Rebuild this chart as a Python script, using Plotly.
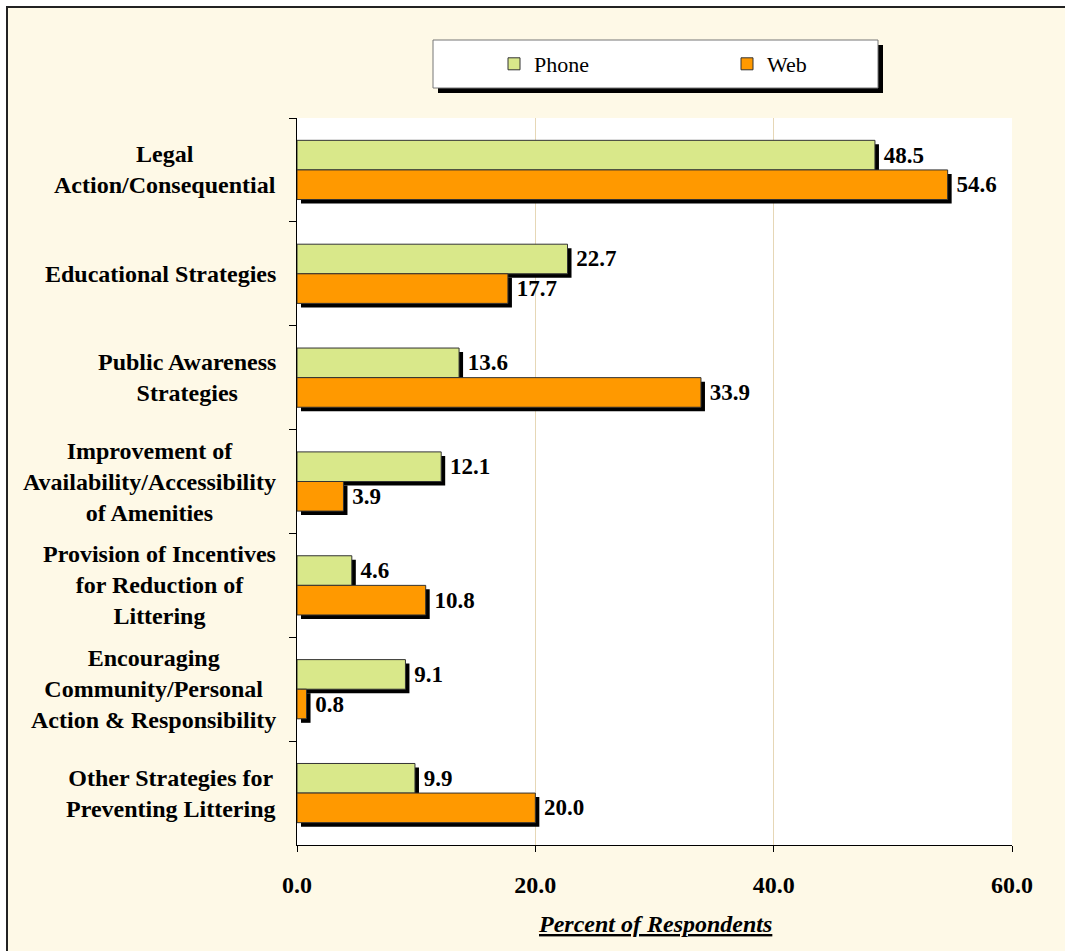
import plotly.graph_objects as go

# Survey results: suggested strategies for preventing littering
strategies = [
    "Legal<br>Action/Consequential",
    "Educational Strategies",
    "Public Awareness<br>Strategies",
    "Improvement of<br>Availability/Accessibility<br>of Amenities",
    "Provision of Incentives<br>for Reduction of<br>Littering",
    "Encouraging<br>Community/Personal<br>Action & Responsibility",
    "Other Strategies for<br>Preventing Littering",
]
phone = [48.5, 22.7, 13.6, 12.1, 4.6, 9.1, 9.9]
web = [54.6, 17.7, 33.9, 3.9, 10.8, 0.8, 20.0]
x_ticks = [0, 20, 40, 60]

FONT = "Liberation Serif"
PHONE_COLOR = "#D9E88A"
WEB_COLOR = "#FF9900"
CREAM = "#FEF9E7"

W, H = 1065, 951
M_L, M_R, M_T, M_B = 297, 53, 118, 106
plot_w = W - M_L - M_R
plot_h = H - M_T - M_B

# drop shadow offset (pixels) converted into axis units
SHADOW_PX = 4
x_max = x_ticks[-1]
dx = SHADOW_PX * x_max / plot_w
dy = SHADOW_PX / (plot_h / len(strategies))

bar_w = 0.285
offsets = {"Phone": -bar_w, "Web": 0.0}


def px_x(p):
    return (p - M_L) / plot_w


def px_y(p):
    return (H - M_B - p) / plot_h


fig = go.Figure()

# shadows first so the coloured bars sit on top of them
for name, vals in (("Phone", phone), ("Web", web)):
    fig.add_trace(go.Bar(
        y=strategies, x=vals, base=dx, orientation="h",
        offset=offsets[name] + dy, width=bar_w,
        marker=dict(color="black", line=dict(width=0)),
        showlegend=False, hoverinfo="skip",
    ))

for name, vals, color in (("Phone", phone, PHONE_COLOR), ("Web", web, WEB_COLOR)):
    fig.add_trace(go.Bar(
        name=name, y=strategies, x=vals, orientation="h",
        offset=offsets[name], width=bar_w,
        marker=dict(color=color, line=dict(color="#333333", width=1)),
        text=[f"\u00a0{v:.1f}" for v in vals], texttemplate="%{text}",
        textposition="outside", constraintext="none", cliponaxis=False,
        textfont=dict(family=FONT, size=23, color="black", weight="bold"),
    ))

# category labels, centred multi-line text to the left of the axis
annotations = [
    dict(x=0, y=cat, xref="paper", yref="y", xanchor="right", yanchor="middle",
         xshift=-19, align="center", showarrow=False, text=cat,
         font=dict(family=FONT, size=24, color="black", weight="bold"))
    for cat in strategies
]
annotations.append(dict(
    x=0.5, y=px_y(924), xref="paper", yref="paper", xanchor="center", yanchor="middle",
    showarrow=False, text="<b><i><u>Percent of Respondents</u></i></b>",
    font=dict(family=FONT, size=24, color="black"),
))

shapes = [
    # cream panel with dark frame
    dict(type="rect", xref="paper", yref="paper", layer="below",
         x0=px_x(7), x1=px_x(W + 20), y0=px_y(H + 20), y1=px_y(7),
         fillcolor=CREAM, line=dict(color="#222222", width=2)),
    # white plotting area
    dict(type="rect", xref="paper", yref="paper", layer="below",
         x0=0, x1=1, y0=0, y1=1, fillcolor="white", line=dict(width=0)),
    # legend box shadow and box
    dict(type="rect", xref="paper", yref="paper", layer="below",
         x0=px_x(438), x1=px_x(883), y0=px_y(93), y1=px_y(45),
         fillcolor="black", line=dict(width=0)),
    dict(type="rect", xref="paper", yref="paper", layer="below",
         x0=px_x(433), x1=px_x(878), y0=px_y(88), y1=px_y(40),
         fillcolor="white", line=dict(color="#777777", width=1)),
]

fig.update_layout(
    width=W, height=H,
    margin=dict(l=M_L, r=M_R, t=M_T, b=M_B, pad=0),
    paper_bgcolor="white", plot_bgcolor="rgba(0,0,0,0)",
    barmode="overlay",
    font=dict(family=FONT, size=20, color="black"),
    legend=dict(
        orientation="h", x=px_x(494), y=px_y(64), xanchor="left", yanchor="middle",
        bgcolor="rgba(0,0,0,0)", borderwidth=0,
        entrywidth=188, entrywidthmode="pixels",
        font=dict(family=FONT, size=22, color="black"),
        traceorder="normal",
    ),
    xaxis=dict(
        range=[0, x_max], tickvals=x_ticks, tickformat=".1f",
        showgrid=True, gridcolor="#E6D7B6", gridwidth=1, zeroline=False,
        showline=True, linecolor="black", linewidth=1,
        ticks="outside", ticklen=6, tickcolor="black",
        ticklabelstandoff=12,
        tickfont=dict(family=FONT, size=24, color="black", weight="bold"),
    ),
    yaxis=dict(
        type="category", categoryorder="array", categoryarray=strategies,
        autorange="reversed", showticklabels=False, showgrid=False, zeroline=False,
        showline=True, linecolor="black", linewidth=1,
        ticks="outside", ticklen=7, tickcolor="black", tickson="boundaries",
    ),
    annotations=annotations,
    shapes=shapes,
)

fig.write_html("out.html")
